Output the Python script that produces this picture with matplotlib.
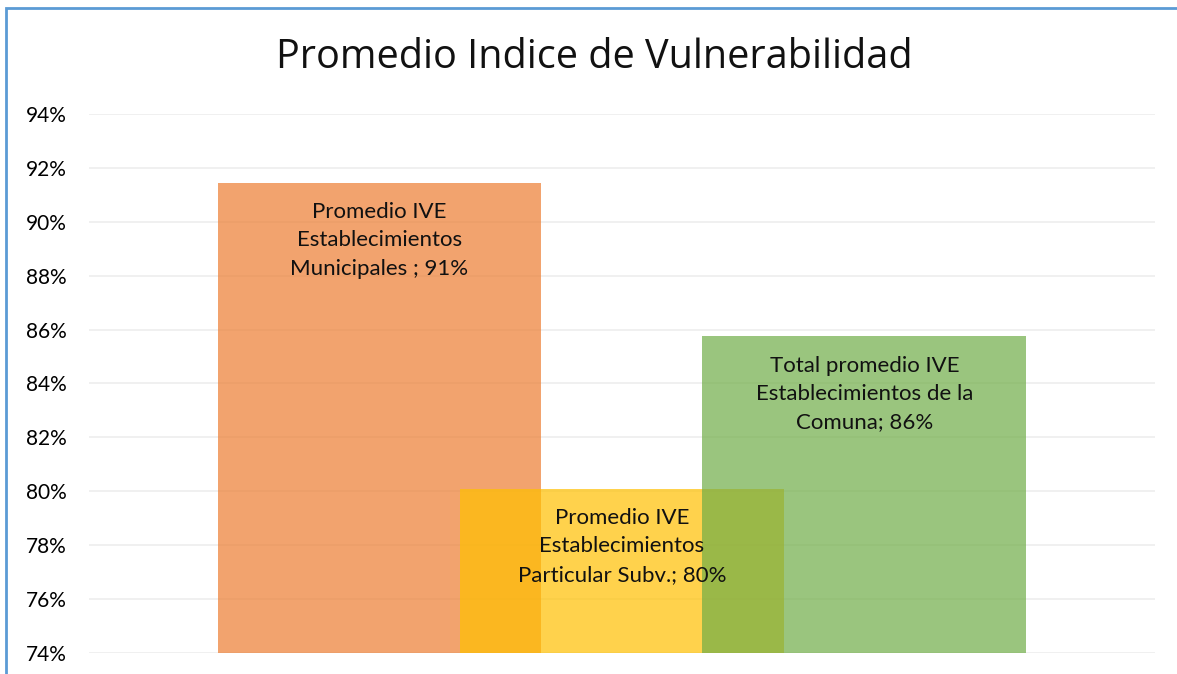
import matplotlib.pyplot as plt
from matplotlib.patches import Rectangle

# Data
categories = ['Municipales', 'Particular Subv.', 'Comuna']
labels = ['Promedio IVE\nEstablecimientos\nMunicipales ; 91%',
          'Promedio IVE\nEstablecimientos\nParticular Subv.; 80%',
          'Total promedio IVE\nEstablecimientos de la\nComuna; 86%']
values = [91.45, 80.1, 85.75]
colors = ['#ED7D31', '#FFC000', '#70AD47']
yticks = [74, 76, 78, 80, 82, 84, 86, 88, 90, 92, 94]

plt.rcParams['font.family'] = ['Lato', 'DejaVu Sans']

fig = plt.figure(figsize=(11.77, 6.74), dpi=100)
ax = fig.add_axes([0.0756, 0.0312, 0.9057, 0.7997])

x = [i - 1 for i in range(len(values))]
ax.bar(x, [v - 74 for v in values], bottom=74, width=1.336,
       color=colors, alpha=0.7, linewidth=0, zorder=2)

for xi, v, lab in zip(x, values, labels):
    ax.annotate(lab, (xi, v), xytext=(0, -14), textcoords='offset points',
                ha='center', va='top', fontsize=16, linespacing=1.52,
                color='#111111', zorder=5)

ax.set_xlim(-2.198, 2.198)
ax.set_ylim(74, 94)
ax.set_yticks(yticks)
ax.set_yticklabels([f'{t}%' for t in yticks], fontsize=15)
ax.set_xticks([])
ax.tick_params(axis='y', length=0, pad=16)
ax.grid(axis='y', color='#EDEDED', linewidth=1.2, zorder=0)
for s in ax.spines.values():
    s.set_visible(False)

fig.text(0.505, 0.914, 'Promedio Indice de Vulnerabilidad', ha='center', va='center',
         fontsize=28.5, color='#111111', family=['Open Sans', 'DejaVu Sans'])

# blue chart border (right and bottom edges fall outside the image)
fig.patches.append(Rectangle((6 / 1177, -0.1), 1.2, 1.1 - 8 / 674,
                             transform=fig.transFigure, fill=False,
                             edgecolor='#5B9BD5', linewidth=2))

fig.savefig('out.png', dpi=100)
